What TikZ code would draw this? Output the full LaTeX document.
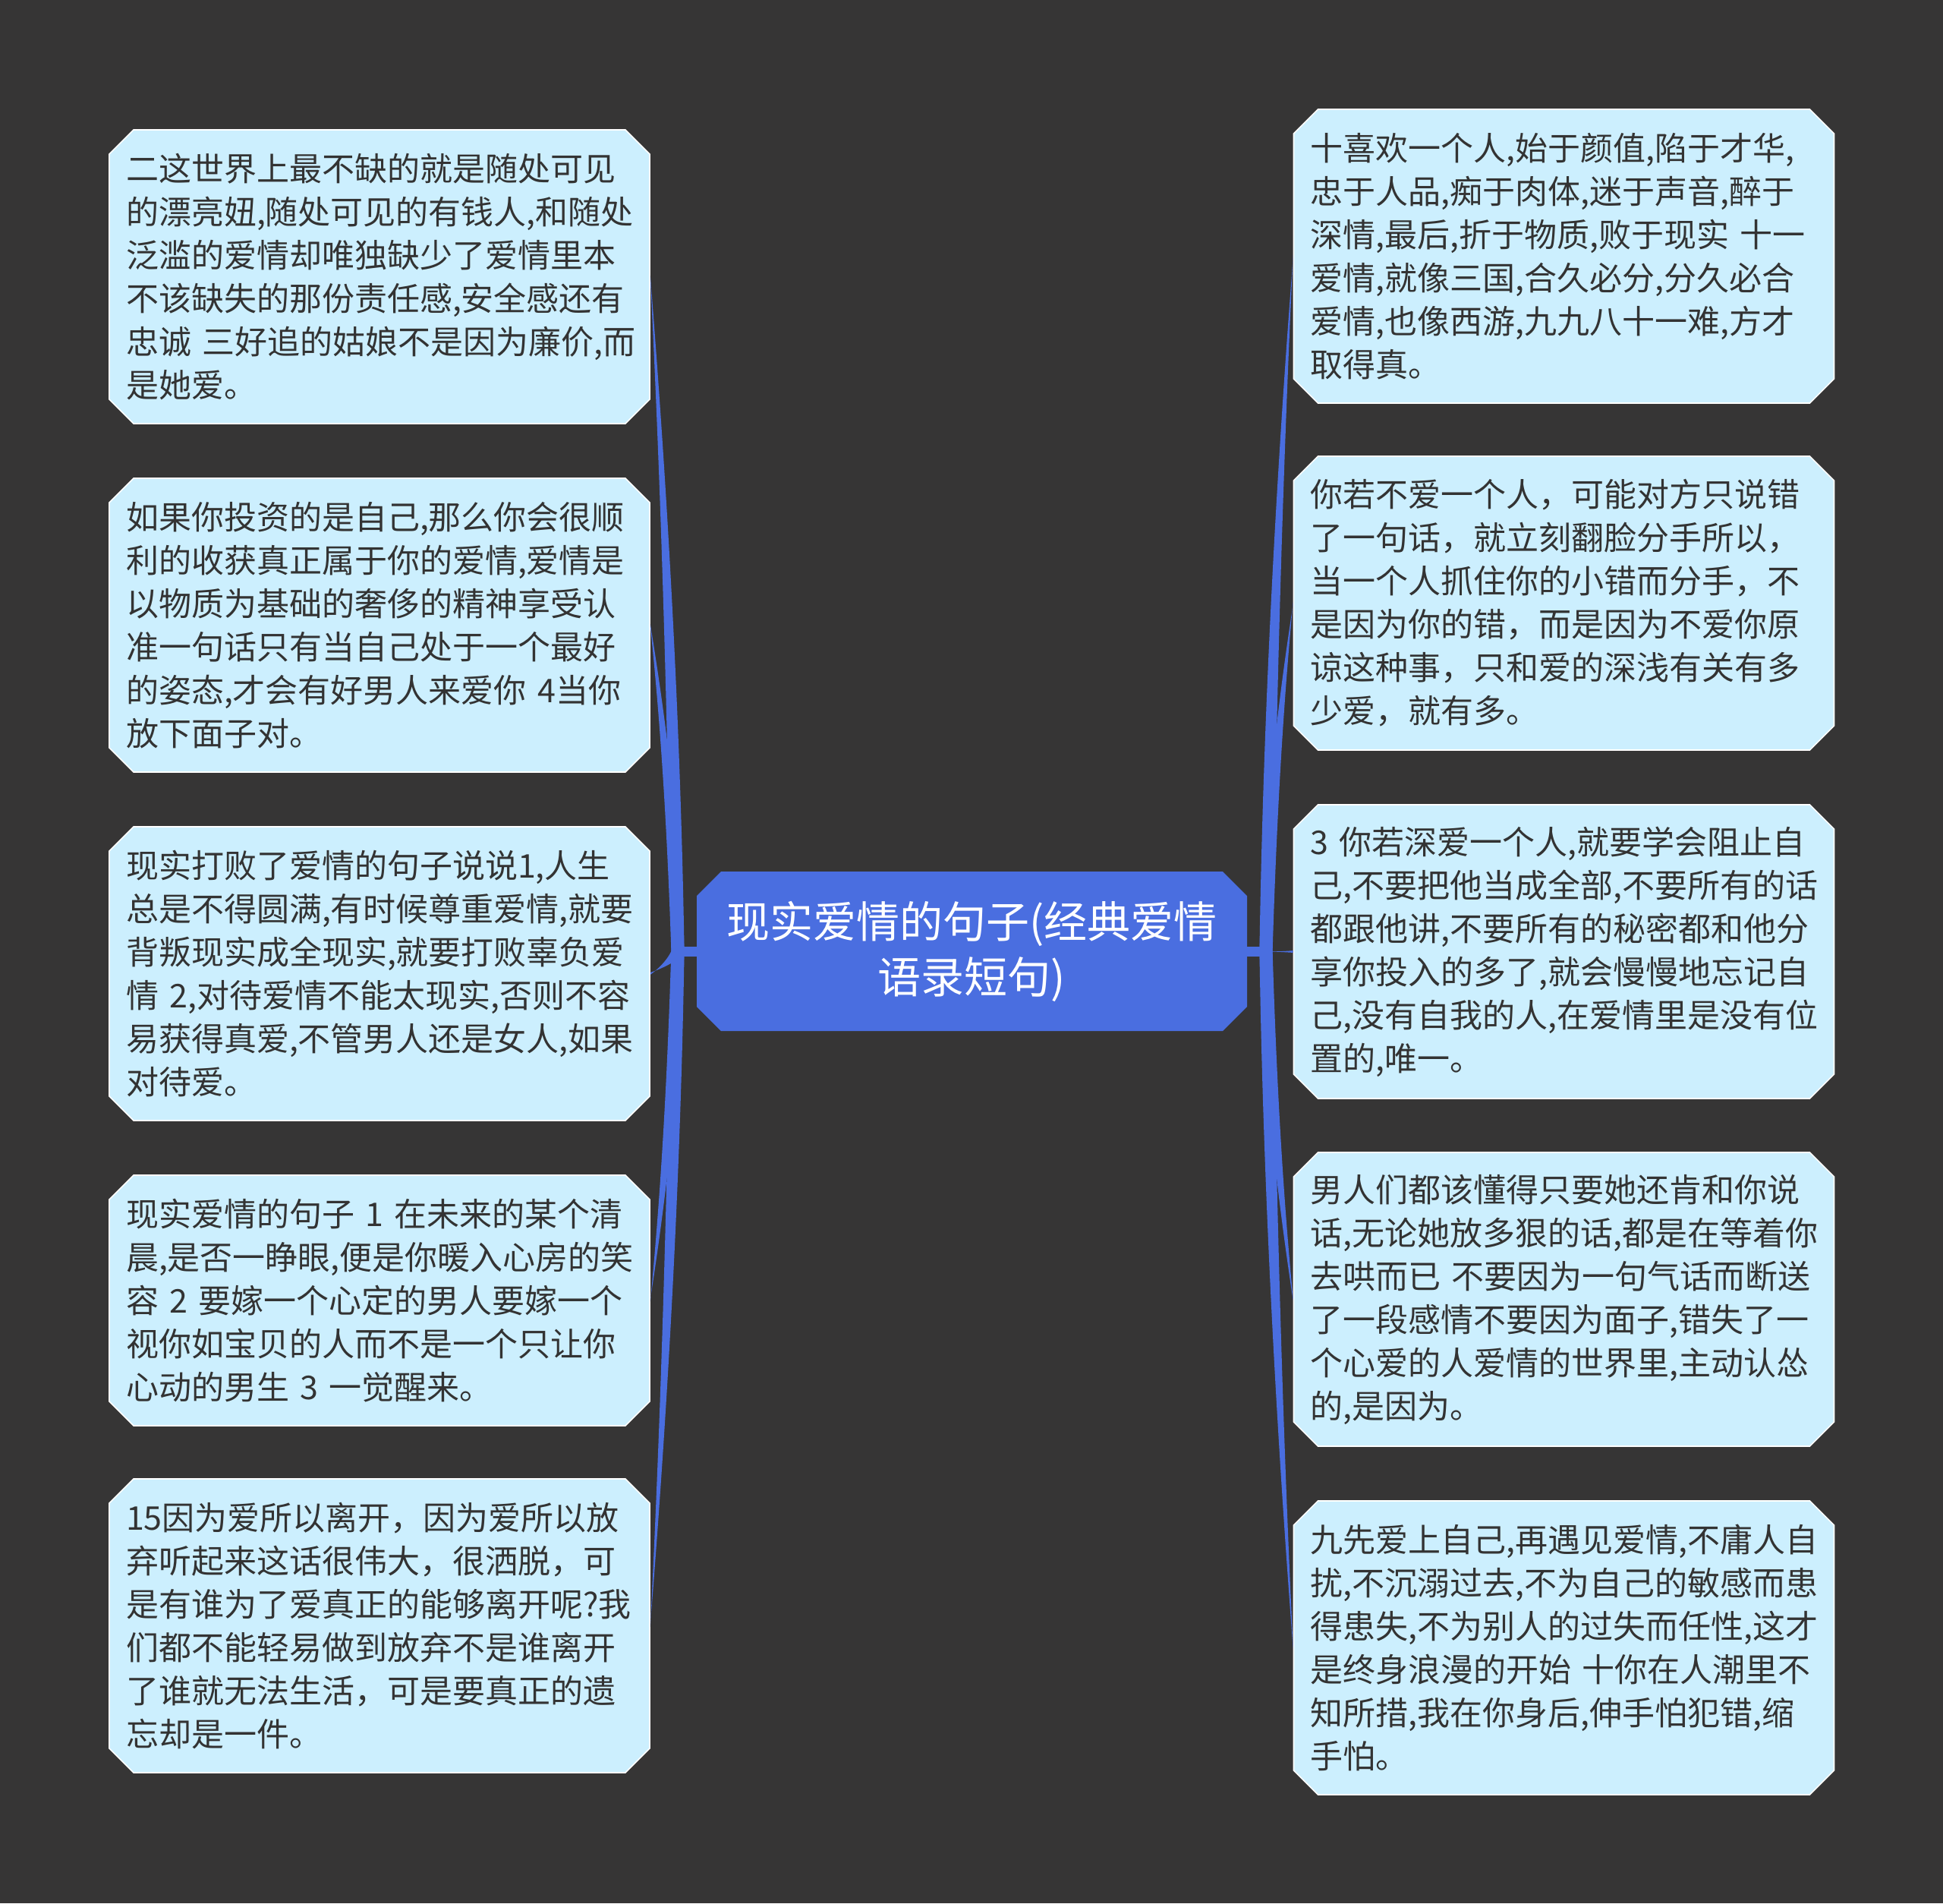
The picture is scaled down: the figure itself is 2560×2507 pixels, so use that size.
\documentclass[tikz,border=0pt]{standalone}
\usepackage{fontspec}
\usepackage{tikz}
\usepackage{xcolor}
\usetikzlibrary{shapes.misc,calc}
\newfontfamily\cjk{Noto Sans CJK SC}
\definecolor{canvas}{HTML}{363535}
\definecolor{leafFill}{HTML}{CCEFFE}
\definecolor{rootFill}{HTML}{4A6EE0}
\definecolor{inkDark}{HTML}{333333}

%% Macro for a tapered branch
% 1: half width at the root
% 2: root
% 3: leaf anchor
\newcommand{\branch}[3][4.3pt]{
    \fill[link] let \p1=(#2), \p2=(#3) in
        (\x1-#1,\y1)
        .. controls ({\x1+0.133*(\x2-\x1)-#1},{\y1+0.333*(\y2-\y1)})
        and ({\x2+0.533*(\x1-\x2)-0.5*#1},{\y2+0.333*(\y1-\y2)})
        .. (\x2,\y2-0.7pt)
        -- (\x2,\y2+0.7pt)
        .. controls ({\x2+0.533*(\x1-\x2)+0.5*#1},{\y2+0.333*(\y1-\y2)})
        and ({\x1+0.133*(\x2-\x1)+#1},{\y1+0.333*(\y2-\y1)})
        .. (\x1+#1,\y1) -- cycle;
}

\begin{document}
\begin{tikzpicture}[x=0.5pt,y=-0.5pt]
% define the boxes
\tikzset{
    leaf/.style={chamfered rectangle,chamfered rectangle xsep=8pt,chamfered rectangle ysep=8pt,
        fill=leafFill,draw=white,line width=0.8pt,text=inkDark,inner sep=0pt,
        minimum width=356pt,minimum height=193.5pt,text width=334pt,align=left,
        font=\cjk\fontsize{21.5}{28.5}\selectfont},
    leafshort/.style={leaf,minimum height=165pt},
    title/.style={chamfered rectangle,chamfered rectangle xsep=8pt,chamfered rectangle ysep=8pt,
        fill=rootFill,text=white,inner sep=0pt,
        minimum width=362.5pt,minimum height=105pt,align=center,
        font=\cjk\fontsize{28.5}{36.5}\selectfont},
    link/.style={fill=rootFill},
    stub/.style={draw=rootFill,line width=6.5pt}
}

%% CONFIG
\def\xL{500}
\def\xR{2060.5}

% Background
\fill[canvas] (0,0) rectangle (2560,2507);

% Central topic
\node[title] (title) at (1280.5,1253) {现实爱情的句子(经典爱情\\语录短句)};

% Left leaves
\node[leaf] (l1) at (\xL,364.5) {二这世界上最不缺的就是随处可见\\的漂亮妞,随处可见的有钱人,和随处\\泛滥的爱情却唯独缺少了爱情里本\\不该缺失的那份责任感,安全感还有\\忠诚~三好追的姑娘不是因为廉价,而\\是她爱。};
\node[leaf] (l2) at (\xL,823.5) {如果你投资的是自己,那么你会很顺\\利的收获真正属于你的爱情,爱情是\\以物质为基础的奢侈的精神享受认\\准一句话只有当自己处于一个最好\\的姿态,才会有好男人来爱你~4当你\\放下面子对。};
\node[leaf] (l3) at (\xL,1282.5) {现实打败了爱情的句子说说1,人生\\总是不得圆满,有时候尊重爱情,就要\\背叛现实成全现实,就要打败辜负爱\\情~2,对待爱情不能太现实,否则不容\\易获得真爱,不管男人还是女人,如果\\对待爱。};
\node[leafshort] (l4) at (\xL,1713) {现实爱情的句子~1~在未来的某个清\\晨,是否一睁眼,便是你暖入心房的笑\\容~2~要嫁一个心定的男人要嫁一个\\视你如宝贝的人而不是一个只让你\\心动的男生~3~一觉醒来。};
\node[leaf] (l5) at (\xL,2141.5) {15因为爱所以离开，因为爱所以放\\弃听起来这话很伟大，很洒脱，可\\是有谁为了爱真正的能够离开呢?我\\们都不能轻易做到放弃不是谁离开\\了谁就无法生活，可是要真正的遗\\忘却是一件。};

% Right leaves
\node[leaf] (r1) at (\xR,337.5) {十喜欢一个人,始于颜值,陷于才华,\\忠于人品,痴于肉体,迷于声音,醉于\\深情,最后,折于物质,败于现实~十一\\爱情,就像三国,合久必分,分久必合\\爱情,也像西游,九九八十一难,方才\\取得真。};
\node[leaf] (r2) at (\xR,794.5) {你若不爱一个人，可能对方只说错\\了一句话，就立刻翻脸分手所以，\\当一个人抓住你的小错而分手，不\\是因为你的错，而是因为不爱你原\\谅这种事，只和爱的深浅有关有多\\少爱，就有多。};
\node[leaf] (r3) at (\xR,1253.5) {3~你若深爱一个人,就要学会阻止自\\己,不要把他当成全部,不要所有的话\\都跟他讲,不要所有的秘密都和他分\\享你投入的多了,就会慢慢地忘记自\\己,没有自我的人,在爱情里是没有位\\置的,唯一。};
\node[leaf] (r4) at (\xR,1711.5) {男人们都该懂得只要她还肯和你说\\话,无论她放多狠的话,都是在等着你\\去哄而已~不要因为一句气话而断送\\了一段感情不要因为面子,错失了一\\个心爱的人爱情的世界里,主动认怂\\的,是因为。};
\node[leaf] (r5) at (\xR,2170.5) {九先爱上自己,再遇见爱情,不庸人自\\扰,不沉溺过去,不为自己的敏感而患\\得患失,不为别人的过失而任性,这才\\是终身浪漫的开始~十你在人潮里不\\知所措,我在你身后,伸手怕犯错,缩\\手怕。};

% Hubs beside the central topic
\coordinate (hubL) at (893,1253);
\coordinate (hubR) at (1668,1253);
\draw[stub] (title.west) -- (hubL);
\draw[stub] (title.east) -- (hubR);

% Branches
\foreach \i in {1,...,5}{
    \branch{hubL}{l\i.east}
    \branch{hubR}{r\i.west}
}
\end{tikzpicture}
\end{document}
